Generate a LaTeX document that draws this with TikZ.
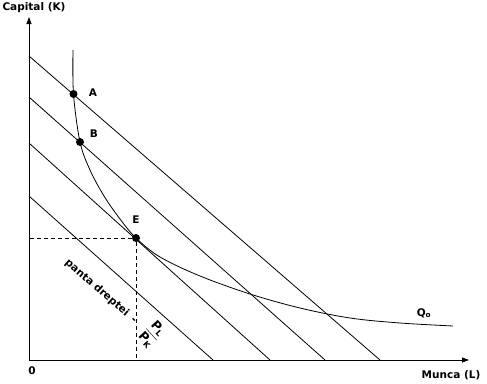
\documentclass[tikz,border=0pt]{standalone}
\usepackage{fontspec}
\setmainfont{DejaVu Sans}
\usetikzlibrary{arrows.meta}
\begin{document}
\begin{tikzpicture}[x=1pt,y=-1pt,
  lbl/.style={font=\bfseries\fontsize{10.5}{12}\selectfont, inner sep=0pt},
  ax/.style={line width=0.8pt,-{Triangle[length=7pt,width=5pt]}},
  budget/.style={line width=0.8pt},
  dot/.style={circle,fill=black,inner sep=0pt,minimum size=8pt},
  guide/.style={line width=0.7pt,dash pattern=on 4pt off 3pt}]
\useasboundingbox (0,0) rectangle (487,383);
% axes
\coordinate (O) at (29,360);
\coordinate (Ytop) at (29,17);
\coordinate (Xend) at (469,360);
\draw[ax] (O) -- (Ytop);
\draw[ax] (O) -- (Xend);
\node[lbl] (ylab) at (34,8) {Capital (K)};
\node[lbl] (xlab) at (451,375) {Munca (L)};
\node[lbl] (zero) at (32,371) {0};
% budget lines
\coordinate (a1) at (29,56);  \coordinate (b1) at (380,360);
\coordinate (a2) at (29,97);  \coordinate (b2) at (325,360);
\coordinate (a3) at (29,143); \coordinate (b3) at (270,360);
\coordinate (a4) at (29,196); \coordinate (b4) at (213,360);
\draw[budget] (a1) -- (b1);
\draw[budget] (a2) -- (b2);
\draw[budget] (a3) -- (b3);
\draw[budget] (a4) -- (b4);
% isoquant
\draw[line width=0.8pt] plot[smooth,tension=0.55] coordinates {(73,50) (73.5,94) (80,142) (90,170) (104,196) (120,219) (136,238) (160,257) (200,276) (250,294) (300,308) (350,318) (400,323) (453,326)};
\node[lbl] (q) at (424,313) {Q\textsubscript{o}};
% points
\node[dot] (A) at (73.5,94) {};
\node[dot] (B) at (80,142) {};
\node[dot] (E) at (136,238) {};
\node[lbl] (Al) at (93,93) {A};
\node[lbl] (Bl) at (94,134) {B};
\node[lbl] (El) at (136,220) {E};
% dashed guides
\coordinate (Ey) at (29,238);
\coordinate (Ex) at (136,360);
\draw[guide] (E) -- (Ey);
\draw[guide] (E) -- (Ex);
% slope labels
\node[lbl,rotate=-41] (slope) at (97,288) {panta dreptei};
\node[lbl,rotate=-45] (minus) at (133,321) {-};
\node[font=\bfseries\fontsize{12.5}{14}\selectfont,rotate=-48,inner sep=0pt] (frac) at (152,334) {$\displaystyle\frac{\mbox{P}_{\mbox{\fontsize{8}{9}\selectfont L}}}{\mbox{P}_{\mbox{\fontsize{8}{9}\selectfont K}}}$};
\end{tikzpicture}
\end{document}
